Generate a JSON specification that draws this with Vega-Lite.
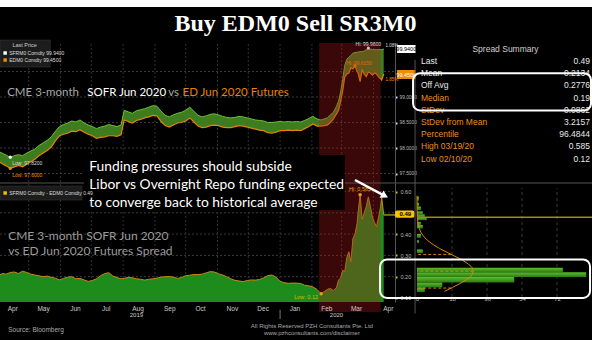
{
"$schema": "https://vega.github.io/schema/vega-lite/v6.json",
"width": 592, "height": 333,
"autosize": {"type": "none"},
"padding": {"top": 7, "left": 0, "right": 0, "bottom": 0},
"background": "#ffffff",
"config": {"aria": false, "view": {"fill": "#000000", "stroke": null}, "text": {"font": "Liberation Sans Narrow, Liberation Sans", "baseline": "middle"}},
"datasets": {
"ts": [
{"d":"2019-04-03","s":97.92,"e":97.72,"p":0.21},{"d":"2019-04-06","s":97.89,"e":97.68,"p":0.215},{"d":"2019-04-09","s":97.86,"e":97.65,"p":0.212},{"d":"2019-04-13","s":97.82,"e":97.60,"p":0.22},{"d":"2019-04-17","s":97.85,"e":97.63,"p":0.222},{"d":"2019-04-21","s":97.87,"e":97.66,"p":0.215},{"d":"2019-04-25","s":97.85,"e":97.63,"p":0.226},{"d":"2019-04-29","s":97.90,"e":97.68,"p":0.22},
{"d":"2019-05-03","s":97.94,"e":97.73,"p":0.212},{"d":"2019-05-07","s":97.98,"e":97.78,"p":0.208},{"d":"2019-05-11","s":98.05,"e":97.85,"p":0.204},{"d":"2019-05-15","s":98.10,"e":97.90,"p":0.20},{"d":"2019-05-19","s":98.15,"e":97.95,"p":0.203},{"d":"2019-05-23","s":98.22,"e":98.02,"p":0.197},{"d":"2019-05-27","s":98.33,"e":98.14,"p":0.193},{"d":"2019-05-31","s":98.42,"e":98.24,"p":0.185},
{"d":"2019-06-04","s":98.46,"e":98.27,"p":0.192},{"d":"2019-06-08","s":98.49,"e":98.29,"p":0.198},{"d":"2019-06-12","s":98.53,"e":98.33,"p":0.20},{"d":"2019-06-16","s":98.51,"e":98.32,"p":0.19},{"d":"2019-06-20","s":98.55,"e":98.36,"p":0.192},{"d":"2019-06-24","s":98.49,"e":98.31,"p":0.185},{"d":"2019-06-28","s":98.45,"e":98.27,"p":0.178},
{"d":"2019-07-02","s":98.42,"e":98.24,"p":0.182},{"d":"2019-07-06","s":98.38,"e":98.19,"p":0.19},{"d":"2019-07-10","s":98.41,"e":98.21,"p":0.205},{"d":"2019-07-14","s":98.43,"e":98.22,"p":0.214},{"d":"2019-07-18","s":98.46,"e":98.24,"p":0.219},{"d":"2019-07-22","s":98.44,"e":98.24,"p":0.203},{"d":"2019-07-26","s":98.42,"e":98.23,"p":0.196},{"d":"2019-07-30","s":98.45,"e":98.26,"p":0.19},
{"d":"2019-08-02","s":98.74,"e":98.55,"p":0.192},{"d":"2019-08-06","s":98.71,"e":98.52,"p":0.197},{"d":"2019-08-10","s":98.68,"e":98.49,"p":0.195},{"d":"2019-08-14","s":98.73,"e":98.54,"p":0.19},{"d":"2019-08-18","s":98.75,"e":98.56,"p":0.188},{"d":"2019-08-22","s":98.77,"e":98.59,"p":0.184},{"d":"2019-08-26","s":98.80,"e":98.61,"p":0.188},{"d":"2019-08-30","s":98.83,"e":98.64,"p":0.19},
{"d":"2019-09-03","s":98.82,"e":98.63,"p":0.193},{"d":"2019-09-07","s":98.72,"e":98.52,"p":0.198},{"d":"2019-09-11","s":98.64,"e":98.44,"p":0.20},{"d":"2019-09-15","s":98.61,"e":98.41,"p":0.201},{"d":"2019-09-19","s":98.65,"e":98.45,"p":0.198},{"d":"2019-09-23","s":98.68,"e":98.49,"p":0.192},{"d":"2019-09-27","s":98.70,"e":98.50,"p":0.196},
{"d":"2019-10-01","s":98.74,"e":98.53,"p":0.205},{"d":"2019-10-05","s":98.80,"e":98.59,"p":0.207},{"d":"2019-10-09","s":98.72,"e":98.51,"p":0.21},{"d":"2019-10-13","s":98.64,"e":98.43,"p":0.21},{"d":"2019-10-17","s":98.61,"e":98.40,"p":0.212},{"d":"2019-10-21","s":98.63,"e":98.41,"p":0.218},{"d":"2019-10-25","s":98.66,"e":98.44,"p":0.224},{"d":"2019-10-29","s":98.67,"e":98.45,"p":0.222},
{"d":"2019-11-02","s":98.65,"e":98.44,"p":0.214},{"d":"2019-11-06","s":98.62,"e":98.41,"p":0.208},{"d":"2019-11-10","s":98.60,"e":98.40,"p":0.20},{"d":"2019-11-14","s":98.59,"e":98.40,"p":0.19},{"d":"2019-11-18","s":98.60,"e":98.42,"p":0.183},{"d":"2019-11-22","s":98.62,"e":98.44,"p":0.18},{"d":"2019-11-26","s":98.61,"e":98.43,"p":0.177},{"d":"2019-11-30","s":98.59,"e":98.41,"p":0.182},
{"d":"2019-12-04","s":98.57,"e":98.39,"p":0.185},{"d":"2019-12-08","s":98.55,"e":98.37,"p":0.184},{"d":"2019-12-12","s":98.54,"e":98.35,"p":0.187},{"d":"2019-12-16","s":98.53,"e":98.34,"p":0.195},{"d":"2019-12-20","s":98.50,"e":98.30,"p":0.205},{"d":"2019-12-24","s":98.50,"e":98.29,"p":0.208},{"d":"2019-12-28","s":98.51,"e":98.31,"p":0.198},
{"d":"2020-01-01","s":98.52,"e":98.34,"p":0.178},{"d":"2020-01-05","s":98.51,"e":98.34,"p":0.172},{"d":"2020-01-09","s":98.52,"e":98.35,"p":0.169},{"d":"2020-01-13","s":98.51,"e":98.34,"p":0.17},{"d":"2020-01-17","s":98.52,"e":98.35,"p":0.17},{"d":"2020-01-21","s":98.51,"e":98.34,"p":0.168},{"d":"2020-01-25","s":98.54,"e":98.38,"p":0.16},{"d":"2020-01-29","s":98.58,"e":98.42,"p":0.157},
{"d":"2020-02-02","s":98.62,"e":98.47,"p":0.152},{"d":"2020-02-06","s":98.57,"e":98.43,"p":0.14},{"d":"2020-02-10","s":98.55,"e":98.43,"p":0.12},{"d":"2020-02-13","s":98.57,"e":98.44,"p":0.13},{"d":"2020-02-16","s":98.59,"e":98.45,"p":0.14},{"d":"2020-02-19","s":98.65,"e":98.50,"p":0.145},{"d":"2020-02-22","s":98.70,"e":98.57,"p":0.135},{"d":"2020-02-25","s":98.82,"e":98.67,"p":0.15},{"d":"2020-02-27","s":98.92,"e":98.74,"p":0.185},{"d":"2020-02-29","s":99.10,"e":98.91,"p":0.194},
{"d":"2020-03-02","s":99.35,"e":99.12,"p":0.23},{"d":"2020-03-04","s":99.62,"e":99.39,"p":0.224},{"d":"2020-03-06","s":99.74,"e":99.45,"p":0.29},{"d":"2020-03-08","s":99.78,"e":99.47,"p":0.317},{"d":"2020-03-10","s":99.82,"e":99.57,"p":0.27},{"d":"2020-03-12","s":99.86,"e":99.55,"p":0.38},{"d":"2020-03-14","s":99.87,"e":99.615,"p":0.40},{"d":"2020-03-16","s":99.88,"e":99.50,"p":0.45},{"d":"2020-03-17","s":99.88,"e":99.47,"p":0.50},{"d":"2020-03-19","s":99.89,"e":99.30,"p":0.585},{"d":"2020-03-21","s":99.89,"e":99.53,"p":0.47},{"d":"2020-03-23","s":99.90,"e":99.45,"p":0.50},{"d":"2020-03-25","s":99.93,"e":99.40,"p":0.53},{"d":"2020-03-27","s":99.96,"e":99.49,"p":0.575},{"d":"2020-03-29","s":99.94,"e":99.47,"p":0.53},{"d":"2020-03-31","s":99.93,"e":99.43,"p":0.48},
{"d":"2020-04-02","s":99.93,"e":99.47,"p":0.455},{"d":"2020-04-04","s":99.93,"e":99.45,"p":0.435},{"d":"2020-04-06","s":99.93,"e":99.39,"p":0.48},{"d":"2020-04-08","s":99.93,"e":99.36,"p":0.53},{"d":"2020-04-09","s":99.93,"e":99.33,"p":0.575},{"d":"2020-04-11","s":99.94,"e":99.45,"p":0.49}
],
"months": [{"m":"2019-05-01"},{"m":"2019-06-01"},{"m":"2019-07-01"},{"m":"2019-08-01"},{"m":"2019-09-01"},{"m":"2019-10-01"},{"m":"2019-11-01"},{"m":"2019-12-01"},{"m":"2020-01-01"},{"m":"2020-02-01"},{"m":"2020-03-01"},{"m":"2020-04-01"}],
"gridA": [{"g":97.5},{"g":98},{"g":98.5},{"g":99},{"g":99.5}],
"gridB": [{"g":0.1},{"g":0.2},{"g":0.3},{"g":0.4},{"g":0.5},{"g":0.6}],
"gridH": [{"g":18},{"g":36},{"g":54},{"g":72}],
"bins": [{"lo":0.107,"hi":0.131,"n":4},{"lo":0.131,"hi":0.156,"n":13},{"lo":0.156,"hi":0.184,"n":50},{"lo":0.184,"hi":0.208,"n":87},{"lo":0.208,"hi":0.231,"n":75},{"lo":0.307,"hi":0.325,"n":3},{"lo":0.358,"hi":0.372,"n":1},{"lo":0.385,"hi":0.405,"n":2},{"lo":0.433,"hi":0.45,"n":3},{"lo":0.45,"hi":0.466,"n":2},{"lo":0.475,"hi":0.49,"n":5},{"lo":0.49,"hi":0.505,"n":4},{"lo":0.505,"hi":0.52,"n":3},{"lo":0.527,"hi":0.545,"n":2},{"lo":0.545,"hi":0.565,"n":1},{"lo":0.575,"hi":0.597,"n":1}],
"dens": [{"v":0.11,"dens":14.1},{"v":0.13,"dens":18.2},{"v":0.15,"dens":22.1},{"v":0.17,"dens":25.5},{"v":0.19,"dens":28.0},{"v":0.2134,"dens":29},{"v":0.23,"dens":28.5},{"v":0.25,"dens":26.5},{"v":0.27,"dens":23.4},{"v":0.29,"dens":19.5},{"v":0.31,"dens":15.5},{"v":0.33,"dens":11.6},{"v":0.35,"dens":8.3},{"v":0.37,"dens":5.6},{"v":0.39,"dens":3.55},{"v":0.41,"dens":2.15},{"v":0.43,"dens":1.23},{"v":0.46,"dens":0.49},{"v":0.5,"dens":0.12},{"v":0.55,"dens":0.02},{"v":0.6,"dens":0.0}],
"sd": [{"v":0.127,"dens":17.6},{"v":0.2134,"dens":29},{"v":0.2996,"dens":17.6}],
"tbl": [{"i":0,"label":"Last","val":"0.49","grp":"w"},{"i":1,"label":"Mean","val":"0.2134","grp":"w"},{"i":2,"label":"Off Avg","val":"0.2776","grp":"w"},{"i":3,"label":"Median","val":"0.19","grp":"o"},{"i":4,"label":"StDev","val":"0.0862","grp":"o"},{"i":5,"label":"StDev from Mean","val":"3.2157","grp":"o"},{"i":6,"label":"Percentile","val":"96.4844","grp":"o"},{"i":7,"label":"High 03/19/20","val":"0.585","grp":"o"},{"i":8,"label":"Low 02/10/20","val":"0.12","grp":"o"}]
},
"layer": [
{
"layer": [
{"data":{"name":"months"},"mark":{"type":"rule","color":"#303030","strokeDash":[2,2],"strokeWidth":1},
 "encoding":{"x":{"field":"m","type":"temporal","axis":null},"y":{"datum":94.98,"type":"quantitative"},"y2":{"datum":100.059}}},
{"data":{"name":"gridA"},"mark":{"type":"rule","color":"#3a3a3a","strokeDash":[2,2],"strokeWidth":1},
 "encoding":{"x":{"datum":{"year":2019,"month":4,"date":3,"utc":true},"type":"temporal","axis":null},"x2":{"datum":{"year":2020,"month":4,"date":22,"utc":true}},"y":{"field":"g","type":"quantitative"}}},
{"data":{"name":"ts"},"mark":{"type":"area","color":"#3e7d1f"},
 "encoding":{
  "x":{"field":"d","type":"temporal","scale":{"domain":[{"year":2019,"month":4,"date":3,"utc":true},{"year":2020,"month":4,"date":22,"utc":true}],"range":[0,395],"nice":false},"axis":null},
  "y":{"field":"s","type":"quantitative","scale":{"domain":[97.314,100.059],"range":[176,36],"zero":false,"nice":false},
       "axis":{"orient":"right","offset":-197,"values":[97.5,98,98.5,99],"format":".4f","title":null,"labelColor":"#bbbbbb","labelFontSize":4.8,"labelFont":"Liberation Sans Narrow, Liberation Sans","tickColor":"#dddddd","tickSize":2,"tickWidth":2,"labelPadding":2,"domain":true,"domainColor":"#555555","grid":false,"labelOverlap":false}},
  "y2":{"field":"e"}}},
{"data":{"name":"ts"},"mark":{"type":"line","color":"#6cbf3a","strokeWidth":1},
 "encoding":{"x":{"field":"d","type":"temporal","axis":null},"y":{"field":"s","type":"quantitative"}}},
{"data":{"name":"ts"},"mark":{"type":"line","color":"#e8820c","strokeWidth":1.2},
 "encoding":{"x":{"field":"d","type":"temporal","axis":null},"y":{"field":"e","type":"quantitative"}}},
{"data":{"values":[{}]},"mark":{"type":"rect","fill":"#1c1c1c","stroke":"#3a3a3a","strokeWidth":0.5},
 "encoding":{"x":{"datum":{"year":2019,"month":4,"date":3,"utc":true},"type":"temporal","axis":null},"x2":{"datum":{"year":2019,"month":5,"date":22,"utc":true}},"y":{"datum":100.118,"type":"quantitative"},"y2":{"datum":99.588}}},
{"data":{"values":[{}]},"mark":{"type":"text","text":"Last Price","fontSize":5.5,"color":"#cccccc","align":"center"},
 "encoding":{"x":{"datum":{"year":2019,"month":4,"date":27,"utc":true},"type":"temporal","axis":null},"y":{"datum":100.02,"type":"quantitative"}}},
{"data":{"values":[{}]},"mark":{"type":"point","shape":"square","filled":true,"size":12,"color":"#ffffff","opacity":1},
 "encoding":{"x":{"datum":{"year":2019,"month":4,"date":8,"utc":true},"type":"temporal","axis":null},"y":{"datum":99.863,"type":"quantitative"}}},
{"data":{"values":[{}]},"mark":{"type":"point","shape":"square","filled":true,"size":12,"color":"#f08c00","opacity":1},
 "encoding":{"x":{"datum":{"year":2019,"month":4,"date":8,"utc":true},"type":"temporal","axis":null},"y":{"datum":99.725,"type":"quantitative"}}},
{"data":{"values":[{}]},"mark":{"type":"text","text":"SFRM0 Comdty   99.9400","fontSize":5,"color":"#dddddd","align":"left"},
 "encoding":{"x":{"datum":{"year":2019,"month":4,"date":12,"utc":true},"type":"temporal","axis":null},"y":{"datum":99.863,"type":"quantitative"}}},
{"data":{"values":[{}]},"mark":{"type":"text","text":"EDM0 Comdty    99.4500","fontSize":5,"color":"#dddddd","align":"left"},
 "encoding":{"x":{"datum":{"year":2019,"month":4,"date":12,"utc":true},"type":"temporal","axis":null},"y":{"datum":99.725,"type":"quantitative"}}},
{"data":{"values":[{}]},"mark":{"type":"text","text":"CME 3-month","font":"Lato","fontSize":11.5,"color":"#a9a9a9","align":"left"},
 "encoding":{"x":{"datum":{"year":2019,"month":4,"date":10,"utc":true},"type":"temporal","axis":null},"y":{"datum":99.078,"type":"quantitative"}}},
{"data":{"values":[{}]},"mark":{"type":"text","text":"SOFR Jun 2020","font":"Lato","fontSize":11.5,"color":"#ffffff","align":"left"},
 "encoding":{"x":{"datum":{"year":2019,"month":6,"date":27,"utc":true},"type":"temporal","axis":null},"y":{"datum":99.078,"type":"quantitative"}}},
{"data":{"values":[{}]},"mark":{"type":"text","text":"vs","font":"Lato","fontSize":11.5,"color":"#a9a9a9","align":"left"},
 "encoding":{"x":{"datum":{"year":2019,"month":9,"date":14,"utc":true},"type":"temporal","axis":null},"y":{"datum":99.078,"type":"quantitative"}}},
{"data":{"values":[{}]},"mark":{"type":"text","text":"ED Jun 2020 Futures","font":"Lato","fontSize":11.5,"color":"#e8820c","align":"left"},
 "encoding":{"x":{"datum":{"year":2019,"month":9,"date":28,"utc":true},"type":"temporal","axis":null},"y":{"datum":99.078,"type":"quantitative"}}},
{"data":{"values":[{}]},"mark":{"type":"point","filled":true,"size":10,"color":"#ffffff","opacity":1},
 "encoding":{"x":{"datum":{"year":2019,"month":4,"date":13,"utc":true},"type":"temporal","axis":null},"y":{"datum":97.82,"type":"quantitative"}}},
{"data":{"values":[{}]},"mark":{"type":"point","filled":true,"size":10,"color":"#f08c00","opacity":1},
 "encoding":{"x":{"datum":{"year":2019,"month":4,"date":13,"utc":true},"type":"temporal","axis":null},"y":{"datum":97.60,"type":"quantitative"}}},
{"data":{"values":[{}]},"mark":{"type":"text","text":"Low: 97.8200","fontSize":5,"color":"#dddddd","align":"left"},
 "encoding":{"x":{"datum":{"year":2019,"month":4,"date":15,"utc":true},"type":"temporal","axis":null},"y":{"datum":97.706,"type":"quantitative"}}},
{"data":{"values":[{}]},"mark":{"type":"text","text":"Low: 97.6000","fontSize":5,"color":"#f08c00","align":"left"},
 "encoding":{"x":{"datum":{"year":2019,"month":4,"date":15,"utc":true},"type":"temporal","axis":null},"y":{"datum":97.47,"type":"quantitative"}}},
{"data":{"values":[{}]},"mark":{"type":"point","filled":true,"size":10,"color":"#ffffff","opacity":1},
 "encoding":{"x":{"datum":{"year":2020,"month":3,"date":27,"utc":true},"type":"temporal","axis":null},"y":{"datum":99.96,"type":"quantitative"}}},
{"data":{"values":[{}]},"mark":{"type":"text","text":"Hi: 99.9600","fontSize":5,"color":"#ffffff","align":"center"},
 "encoding":{"x":{"datum":{"year":2020,"month":3,"date":27,"utc":true},"type":"temporal","axis":null},"y":{"datum":100.03,"type":"quantitative"}}},
{"data":{"values":[{}]},"mark":{"type":"point","filled":true,"size":10,"color":"#f08c00","opacity":1},
 "encoding":{"x":{"datum":{"year":2020,"month":3,"date":14,"utc":true},"type":"temporal","axis":null},"y":{"datum":99.615,"type":"quantitative"}}},
{"data":{"values":[{}]},"mark":{"type":"text","text":"Hi: 99.6150","fontSize":5,"color":"#f08c00","align":"center"},
 "encoding":{"x":{"datum":{"year":2020,"month":3,"date":18,"utc":true},"type":"temporal","axis":null},"y":{"datum":99.667,"type":"quantitative"}}},
{"data":{"values":[{}]},"mark":{"type":"rect","fill":"#ffffff"},
 "encoding":{"x":{"datum":{"year":2020,"month":4,"date":24,"utc":true},"type":"temporal","axis":null},"x2":{"datum":{"year":2020,"month":5,"date":12,"utc":true}},"y":{"datum":100.02,"type":"quantitative"},"y2":{"datum":99.863}}},
{"data":{"values":[{}]},"mark":{"type":"text","text":"99.9400","fontSize":5.5,"color":"#000000","align":"center"},
 "encoding":{"x":{"datum":{"year":2020,"month":5,"date":3,"utc":true},"type":"temporal","axis":null},"y":{"datum":99.94,"type":"quantitative"}}},
{"data":{"values":[{}]},"mark":{"type":"rect","fill":"#f08c00"},
 "encoding":{"x":{"datum":{"year":2020,"month":4,"date":24,"utc":true},"type":"temporal","axis":null},"x2":{"datum":{"year":2020,"month":5,"date":12,"utc":true}},"y":{"datum":99.53,"type":"quantitative"},"y2":{"datum":99.353}}},
{"data":{"values":[{}]},"mark":{"type":"text","text":"99.4500","fontSize":5.5,"color":"#ffffff","align":"center"},
 "encoding":{"x":{"datum":{"year":2020,"month":5,"date":3,"utc":true},"type":"temporal","axis":null},"y":{"datum":99.44,"type":"quantitative"}}},
{"data":{"values":[{}]},"mark":{"type":"text","text":"1.08%","fontSize":4.5,"color":"#dddddd","align":"center"},
 "encoding":{"x":{"datum":{"year":2020,"month":4,"date":19,"utc":true},"type":"temporal","axis":null},"y":{"datum":100.0,"type":"quantitative"}}},
{"data":{"values":[{}]},"mark":{"type":"text","text":"1.85%","fontSize":4.5,"color":"#f08c00","align":"center"},
 "encoding":{"x":{"datum":{"year":2020,"month":4,"date":19,"utc":true},"type":"temporal","axis":null},"y":{"datum":99.333,"type":"quantitative"}}},
{"data":{"values":[{}]},"mark":{"type":"text","text":"Buy EDM0 Sell SR3M0","font":"Liberation Serif","fontWeight":"bold","fontSize":24,"color":"#ffffff","align":"center"},
 "encoding":{"x":{"datum":{"year":2020,"month":1,"date":16,"utc":true},"type":"temporal","axis":null},"y":{"datum":100.431,"type":"quantitative"}}}
]
},
{
"layer": [
{"data":{"name":"gridB"},"mark":{"type":"rule","color":"#3a3a3a","strokeDash":[2,2],"strokeWidth":1},
 "encoding":{"x":{"datum":{"year":2019,"month":4,"date":3,"utc":true},"type":"temporal"},"x2":{"datum":{"year":2020,"month":4,"date":22,"utc":true}},"y":{"field":"g","type":"quantitative"}}},
{"data":{"name":"ts"},"mark":{"type":"area","color":"#1d8c1d"},
 "encoding":{
  "x":{"field":"d","type":"temporal","scale":{"domain":[{"year":2019,"month":4,"date":3,"utc":true},{"year":2020,"month":4,"date":22,"utc":true}],"range":[0,395],"nice":false},
       "axis":{"orient":"bottom","offset":-38,"values":[{"year":2019,"month":4,"date":15,"utc":true},{"year":2019,"month":5,"date":15,"utc":true},{"year":2019,"month":6,"date":15,"utc":true},{"year":2019,"month":7,"date":15,"utc":true},{"year":2019,"month":8,"date":15,"utc":true},{"year":2019,"month":9,"date":15,"utc":true},{"year":2019,"month":10,"date":15,"utc":true},{"year":2019,"month":11,"date":15,"utc":true},{"year":2019,"month":12,"date":15,"utc":true},{"year":2020,"month":1,"date":15,"utc":true},{"year":2020,"month":2,"date":15,"utc":true},{"year":2020,"month":3,"date":15,"utc":true},{"year":2020,"month":4,"date":15,"utc":true}],
               "format":"%b","title":null,"labelColor":"#cccccc","labelFontSize":6.5,"labelFont":"Liberation Sans Narrow, Liberation Sans","ticks":false,"tickSize":0,"labelPadding":3,"domain":false,"grid":false,"zindex":1,"labelOverlap":false,"labelFlush":false}},
  "y":{"field":"p","type":"quantitative","scale":{"domain":[0.0812,0.64],"range":[295,176],"zero":false,"nice":false},
       "axis":{"orient":"right","offset":-197,"values":[0.1,0.2,0.3,0.4,0.6],"format":".2f","title":null,"labelColor":"#bbbbbb","labelFontSize":5.5,"labelFont":"Liberation Sans Narrow, Liberation Sans","tickColor":"#e0c000","tickSize":2,"tickWidth":2,"labelPadding":3,"domain":true,"domainColor":"#555555","grid":false,"labelOverlap":false}},
  "y2":{"datum":0.0812}}},
{"data":{"name":"ts"},"mark":{"type":"line","color":"#c8891a","strokeWidth":1},
 "encoding":{"x":{"field":"d","type":"temporal"},"y":{"field":"p","type":"quantitative"}}},
{"data":{"values":[{}]},"mark":{"type":"rule","color":"#a08c12","strokeWidth":1.5},
 "encoding":{"x":{"datum":{"year":2020,"month":4,"date":11,"utc":true},"type":"temporal"},"x2":{"datum":{"year":2020,"month":4,"date":22,"utc":true}},"y":{"datum":0.49,"type":"quantitative"}}},
{"data":{"values":[{}]},"mark":{"type":"rect","color":"#b01818","opacity":0.33},
 "encoding":{"x":{"datum":{"year":2020,"month":2,"date":8,"utc":true},"type":"temporal"},"x2":{"datum":{"year":2020,"month":4,"date":8,"utc":true}},"y":{"datum":0.0343,"type":"quantitative"},"y2":{"datum":1.297}}},
{"data":{"values":[{}]},"mark":{"type":"rule","color":"#555555","strokeWidth":1},
 "encoding":{"x":{"datum":{"year":2019,"month":4,"date":3,"utc":true},"type":"temporal"},"x2":{"datum":{"year":2020,"month":11,"date":1,"utc":true}},"y":{"datum":0.64,"type":"quantitative"}}},
{"data":{"values":[{}]},"mark":{"type":"rect","fill":"#000000"},
 "encoding":{"x":{"datum":{"year":2019,"month":6,"date":24,"utc":true},"type":"temporal"},"x2":{"datum":{"year":2020,"month":3,"date":4,"utc":true}},"y":{"datum":0.771,"type":"quantitative"},"y2":{"datum":0.513}}},
{"data":{"values":[{}]},"mark":{"type":"text","text":"Funding pressures should subside","font":"Lato","fontSize":13.8,"color":"#ffffff","align":"left"},
 "encoding":{"x":{"datum":{"year":2019,"month":6,"date":29,"utc":true},"type":"temporal"},"y":{"datum":0.715,"type":"quantitative"}}},
{"data":{"values":[{}]},"mark":{"type":"text","text":"Libor vs Overnight Repo funding expected","font":"Lato","fontSize":13.8,"color":"#ffffff","align":"left"},
 "encoding":{"x":{"datum":{"year":2019,"month":6,"date":29,"utc":true},"type":"temporal"},"y":{"datum":0.6305,"type":"quantitative"}}},
{"data":{"values":[{}]},"mark":{"type":"text","text":"to converge back to historical average","font":"Lato","fontSize":13.8,"color":"#ffffff","align":"left"},
 "encoding":{"x":{"datum":{"year":2019,"month":6,"date":29,"utc":true},"type":"temporal"},"y":{"datum":0.546,"type":"quantitative"}}},
{"data":{"values":[{}]},"mark":{"type":"text","text":"CME 3-month SOFR Jun 2020","font":"Lato","fontSize":12,"color":"#9b9b9b","align":"left"},
 "encoding":{"x":{"datum":{"year":2019,"month":4,"date":11,"utc":true},"type":"temporal"},"y":{"datum":0.391,"type":"quantitative"}}},
{"data":{"values":[{}]},"mark":{"type":"text","text":"vs ED Jun 2020 Futures Spread","font":"Lato","fontSize":12,"color":"#9b9b9b","align":"left"},
 "encoding":{"x":{"datum":{"year":2019,"month":4,"date":11,"utc":true},"type":"temporal"},"y":{"datum":0.321,"type":"quantitative"}}},
{"data":{"values":[{}]},"mark":{"type":"point","filled":true,"size":12,"color":"#e8a010","opacity":1},
 "encoding":{"x":{"datum":{"year":2020,"month":2,"date":10,"utc":true},"type":"temporal"},"y":{"datum":0.12,"type":"quantitative"}}},
{"data":{"values":[{}]},"mark":{"type":"text","text":"Low: 0.12","fontSize":5.5,"color":"#d4b800","align":"right"},
 "encoding":{"x":{"datum":{"year":2020,"month":2,"date":7,"utc":true},"type":"temporal"},"y":{"datum":0.105,"type":"quantitative"}}},
{"data":{"values":[{}]},"mark":{"type":"point","filled":true,"size":12,"color":"#e8a010","opacity":1},
 "encoding":{"x":{"datum":{"year":2020,"month":3,"date":19,"utc":true},"type":"temporal"},"y":{"datum":0.585,"type":"quantitative"}}},
{"data":{"values":[{}]},"mark":{"type":"text","text":"Hi: 0.585","fontSize":5.5,"color":"#e8a010","align":"center"},
 "encoding":{"x":{"datum":{"year":2020,"month":3,"date":19,"utc":true},"type":"temporal"},"y":{"datum":0.61,"type":"quantitative"}}},
{"data":{"values":[{}]},"mark":{"type":"rect","fill":"#1c1c1c","stroke":"#3a3a3a","strokeWidth":0.5},
 "encoding":{"x":{"datum":{"year":2019,"month":4,"date":3,"utc":true},"type":"temporal"},"x2":{"datum":{"year":2019,"month":6,"date":22,"utc":true}},"y":{"datum":0.626,"type":"quantitative"},"y2":{"datum":0.56}}},
{"data":{"values":[{}]},"mark":{"type":"point","shape":"square","filled":true,"size":12,"color":"#f0c000","opacity":1},
 "encoding":{"x":{"datum":{"year":2019,"month":4,"date":8,"utc":true},"type":"temporal"},"y":{"datum":0.593,"type":"quantitative"}}},
{"data":{"values":[{}]},"mark":{"type":"text","text":"SFRM0 Comdty - EDM0 Comdty  0.49","fontSize":5,"color":"#dddddd","align":"left"},
 "encoding":{"x":{"datum":{"year":2019,"month":4,"date":12,"utc":true},"type":"temporal"},"y":{"datum":0.593,"type":"quantitative"}}},
{"data":{"values":[{}]},"mark":{"type":"rect","fill":"#f2c500","cornerRadius":2},
 "encoding":{"x":{"datum":{"year":2020,"month":4,"date":22,"utc":true},"type":"temporal"},"x2":{"datum":{"year":2020,"month":5,"date":11,"utc":true}},"y":{"datum":0.477,"type":"quantitative"},"y2":{"datum":0.511}}},
{"data":{"values":[{}]},"mark":{"type":"text","text":"0.49","fontSize":6,"fontWeight":"bold","color":"#000000","align":"center"},
 "encoding":{"x":{"datum":{"year":2020,"month":5,"date":2,"utc":true},"type":"temporal"},"y":{"datum":0.494,"type":"quantitative"}}},
{"data":{"values":[{}]},"mark":{"type":"rule","color":"#ffffff","strokeWidth":2.5},
 "encoding":{"x":{"datum":{"year":2020,"month":3,"date":14,"utc":true},"type":"temporal"},"x2":{"datum":{"year":2020,"month":4,"date":12,"utc":true}},"y":{"datum":0.654,"type":"quantitative"},"y2":{"datum":0.58}}},
{"data":{"values":[{}]},"mark":{"type":"point","shape":"triangle-up","angle":118,"filled":true,"size":70,"color":"#ffffff","opacity":1},
 "encoding":{"x":{"datum":{"year":2020,"month":4,"date":12,"utc":true},"type":"temporal"},"y":{"datum":0.58,"type":"quantitative"}}},
{"data":{"values":[{}]},"mark":{"type":"text","text":"2019","fontSize":6,"color":"#cccccc","align":"center"},
 "encoding":{"x":{"datum":{"year":2019,"month":8,"date":14,"utc":true},"type":"temporal"},"y":{"datum":0.02,"type":"quantitative"}}},
{"data":{"values":[{}]},"mark":{"type":"text","text":"2020","fontSize":6,"color":"#cccccc","align":"center"},
 "encoding":{"x":{"datum":{"year":2020,"month":2,"date":25,"utc":true},"type":"temporal"},"y":{"datum":0.02,"type":"quantitative"}}},
{"data":{"values":[{}]},"mark":{"type":"rule","color":"#777777","strokeWidth":1},
 "encoding":{"x":{"datum":{"year":2020,"month":1,"date":1,"utc":true},"type":"temporal"},"y":{"datum":0.045,"type":"quantitative"},"y2":{"datum":0.0014}}},
{"data":{"values":[{}]},"mark":{"type":"text","text":"Source: Bloomberg","fontSize":6.5,"color":"#aaaaaa","align":"left"},
 "encoding":{"x":{"datum":{"year":2019,"month":4,"date":11,"utc":true},"type":"temporal"},"y":{"datum":-0.05,"type":"quantitative"}}},
{"data":{"values":[{}]},"mark":{"type":"text","text":"All Rights Reserved PZH Consultants Pte. Ltd","fontSize":6,"color":"#aaaaaa","align":"center"},
 "encoding":{"x":{"datum":{"year":2020,"month":2,"date":1,"utc":true},"type":"temporal"},"y":{"datum":-0.0315,"type":"quantitative"}}},
{"data":{"values":[{}]},"mark":{"type":"text","text":"www.pzhconsultants.com/disclaimer","fontSize":6,"color":"#aaaaaa","align":"center"},
 "encoding":{"x":{"datum":{"year":2020,"month":2,"date":1,"utc":true},"type":"temporal"},"y":{"datum":-0.064,"type":"quantitative"}}}
]
},
{
"layer": [
{"data":{"name":"gridH"},"mark":{"type":"rule","color":"#3a3a3a","strokeDash":[3,3],"strokeWidth":1},
 "encoding":{"x":{"field":"g","type":"quantitative"},"y":{"datum":0.0812,"type":"quantitative","axis":null},"y2":{"datum":0.64}}},
{"data":{"name":"bins"},"mark":{"type":"bar","orient":"horizontal","color":{"gradient":"linear","x1":0,"y1":0,"x2":0,"y2":1,"stops":[{"offset":0,"color":"#5cbf2a"},{"offset":1,"color":"#2a7a18"}]}},
 "encoding":{
  "x":{"field":"n","type":"quantitative","scale":{"domain":[0,90],"range":[417,592],"zero":true,"nice":false},
       "axis":{"orient":"bottom","offset":-38,"values":[0,18,36,54,72],"title":null,"labelColor":"#bbbbbb","labelFontSize":6,"labelFont":"Liberation Sans Narrow, Liberation Sans","ticks":false,"tickSize":0,"labelPadding":-1,"labelBaseline":"bottom","domain":false,"grid":false,"labelOverlap":false,"labelFlush":false}},
  "y":{"field":"lo","type":"quantitative","scale":{"domain":[0.0812,0.64],"range":[295,176],"zero":false,"nice":false},"axis":null},
  "y2":{"field":"hi"}}},
{"data":{"name":"sd"},"mark":{"type":"rule","color":"#d9850b","strokeDash":[3,2],"strokeWidth":1},
 "encoding":{"x":{"field":"dens","type":"quantitative"},"x2":{"datum":0},"y":{"field":"v","type":"quantitative","axis":null}}},
{"data":{"name":"dens"},"mark":{"type":"line","color":"#d9850b","strokeWidth":1},
 "encoding":{"x":{"field":"dens","type":"quantitative"},"y":{"field":"v","type":"quantitative","axis":null},"order":{"field":"v","type":"quantitative"}}},
{"data":{"values":[{}]},"mark":{"type":"rule","color":"#a08c12","strokeWidth":1.5},
 "encoding":{"x":{"datum":0,"type":"quantitative"},"x2":{"datum":90},"y":{"datum":0.49,"type":"quantitative","axis":null}}},
{"data":{"values":[{}]},"mark":{"type":"rule","color":"#555555","strokeWidth":1},
 "encoding":{"x":{"datum":-1,"type":"quantitative"},"y":{"datum":1.297,"type":"quantitative","axis":null},"y2":{"datum":-0.003}}},
{"data":{"values":[{}]},"mark":{"type":"rect","fill":"#000000","fillOpacity":0,"stroke":"#ffffff","strokeWidth":2,"cornerRadius":7},
 "encoding":{"x":{"datum":-19,"type":"quantitative"},"x2":{"datum":89},"y":{"datum":0.0765,"type":"quantitative","axis":null},"y2":{"datum":0.274}}}
]
},
{
"layer": [
{"data":{"values":[{}]},"mark":{"type":"text","text":"Spread Summary","fontSize":8.5,"color":"#d0d0d0","align":"center"},
 "encoding":{"x":{"datum":0.5,"type":"quantitative","scale":{"domain":[0,1],"range":[421,590],"zero":false,"nice":false},"axis":null},
             "y":{"datum":-1,"type":"quantitative","scale":{"domain":[0,8],"range":[54,151.6],"zero":false,"nice":false},"axis":null}}},
{"data":{"name":"tbl"},"mark":{"type":"text","fontSize":8.5,"align":"left"},
 "encoding":{"x":{"datum":0,"type":"quantitative","axis":null},"y":{"field":"i","type":"quantitative","axis":null},"text":{"field":"label","type":"nominal"},
             "color":{"field":"grp","type":"nominal","scale":{"domain":["w","o"],"range":["#e8e8e8","#e8901a"]},"legend":null}}},
{"data":{"name":"tbl"},"mark":{"type":"text","fontSize":8.5,"align":"right","color":"#e8e8e8"},
 "encoding":{"x":{"datum":1,"type":"quantitative","axis":null},"y":{"field":"i","type":"quantitative","axis":null},"text":{"field":"val","type":"nominal"}}},
{"data":{"values":[{}]},"mark":{"type":"rect","fill":"#000000","fillOpacity":0,"stroke":"#ffffff","strokeWidth":2,"cornerRadius":7},
 "encoding":{"x":{"datum":-0.047,"type":"quantitative","axis":null},"x2":{"datum":1.006},"y":{"datum":1.0,"type":"quantitative","axis":null},"y2":{"datum":4.05}}}
]
}
],
"resolve": {"scale": {"x": "independent", "y": "independent"}, "axis": {"x": "independent", "y": "independent"}}
}
